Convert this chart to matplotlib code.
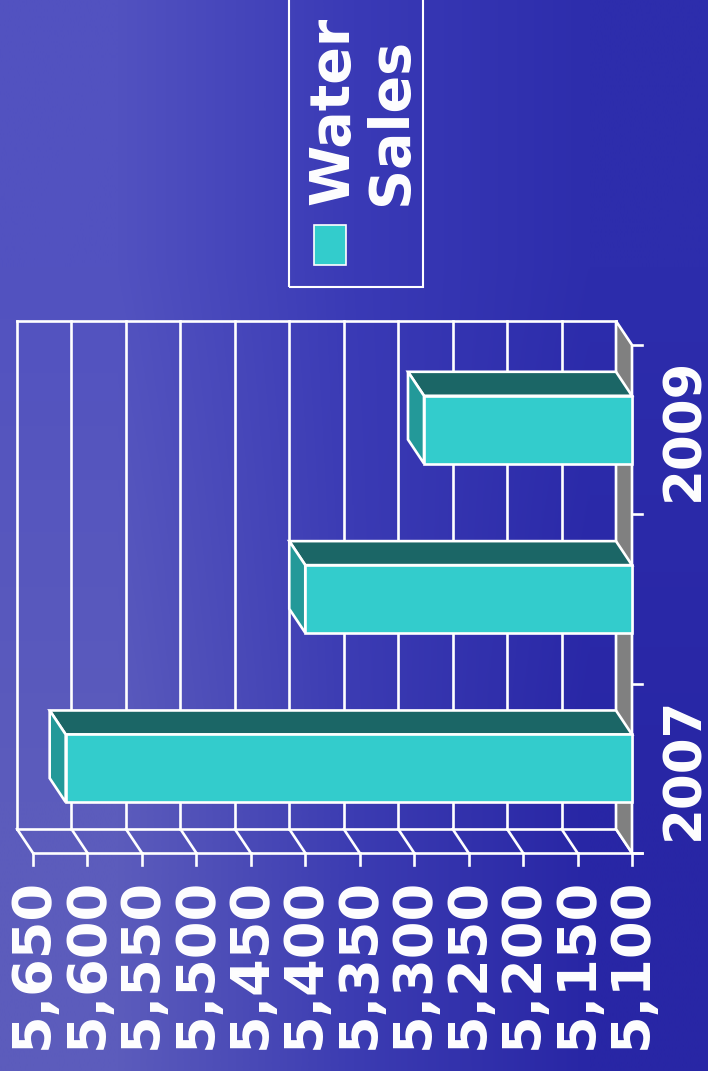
import numpy as np
import matplotlib
matplotlib.use('Agg')
import matplotlib.pyplot as plt
from matplotlib.patches import Polygon, Rectangle

# data
years = ['2007', '2008', '2009']
sales = [5620, 5400, 5291]
shown_years = [0, 2]          # 2008 label is skipped in the original
val_min, val_max, val_step = 5100, 5650, 50
legend_label = 'Water\nSales'

front_c = '#33CCCC'
top_c = '#1B6666'
side_c = '#239999'
wall_c = '#808080'
W = 'white'

W_PX, H_PX = 708, 1071
fig = plt.figure(figsize=(W_PX / 100, H_PX / 100), dpi=100)

# background gradient (lighter at the left)
grad = np.array([[[82, 82, 192], [58, 58, 182], [45, 45, 172]],
                 [[92, 92, 188], [60, 60, 178], [40, 38, 165]]]) / 255.
bg = fig.add_axes([0, 0, 1, 1])
bg.imshow(grad, aspect='auto', extent=[0, 1, 0, 1], interpolation='bilinear')
bg.axis('off')

# front plane of the (rotated) chart
L, R, T, B = 33, 632, 345, 853
ax = fig.add_axes([L / W_PX, 1 - B / H_PX, (R - L) / W_PX, (B - T) / H_PX])
ax.set_xlim(val_max, val_min)
ax.set_ylim(-0.5, len(years) - 0.5)
ax.axis('off')

px_val = (R - L) / (val_max - val_min)
px_cat = (B - T) / len(years)
dv = 16 / px_val      # depth, in value units (back plane is to the left)
dc = 24 / px_cat      # depth, in category units (back plane is higher)
lw = 1.9
c0, c1 = -0.5, len(years) - 0.5
ticks = np.arange(val_min, val_max + 1, val_step)

# back wall + gridlines
for v in ticks:
    ax.plot([v + dv, v + dv], [c0 + dc, c1 + dc], color=W, lw=lw, zorder=2, clip_on=False)
ax.plot([val_max + dv, val_min + dv], [c1 + dc, c1 + dc], color=W, lw=lw, zorder=2, clip_on=False)
ax.plot([val_max + dv, val_min + dv], [c0 + dc, c0 + dc], color=W, lw=lw, zorder=2, clip_on=False)

# floor diagonals, front baseline and ticks
tick_len = 12 / px_cat
for v in ticks:
    ax.plot([v + dv, v], [c0 + dc, c0], color=W, lw=lw, zorder=2, clip_on=False)
    ax.plot([v, v], [c0, c0 - tick_len], color=W, lw=lw, zorder=2, clip_on=False)
ax.plot([val_max, val_min - 10 / px_val], [c0, c0], color=W, lw=lw, zorder=2, clip_on=False)

# grey side wall
ax.add_patch(Polygon([(val_min, c0), (val_min, c1), (val_min + dv, c1 + dc), (val_min + dv, c0 + dc)],
                     closed=True, fc=wall_c, ec=W, lw=lw, zorder=3, clip_on=False))
for k in range(len(years) + 1):
    ax.plot([val_min, val_min - 10 / px_val], [c0 + k, c0 + k], color=W, lw=lw, zorder=3, clip_on=False)

# 3d bars
h = 0.4
for i, v in enumerate(sales):
    lo, hi = i - h / 2, i + h / 2
    ax.add_patch(Polygon([(val_min, hi), (v, hi), (v + dv, hi + dc), (val_min + dv, hi + dc)],
                         closed=True, fc=top_c, ec=W, lw=lw, zorder=4, clip_on=False))
    ax.add_patch(Polygon([(v, lo), (v, hi), (v + dv, hi + dc), (v + dv, lo + dc)],
                         closed=True, fc=side_c, ec=W, lw=lw, zorder=4, clip_on=False))
    ax.add_patch(Rectangle((val_min, lo), v - val_min, h, fc=front_c, ec=W, lw=lw,
                           zorder=5, clip_on=False))

# value labels
for v in ticks:
    ax.annotate(f'{v:,}', xy=(v, c0), xytext=(0, -18), textcoords='offset points',
                rotation=90, ha='center', va='top', color=W, fontsize=39,
                fontweight='bold', annotation_clip=False)

# category labels
for i in shown_years:
    ax.annotate(years[i], xy=(val_min, i), xytext=(38, 0), textcoords='offset points',
                rotation=90, ha='center', va='center', color=W, fontsize=37,
                fontweight='bold', annotation_clip=False)

# legend
fig.patches.append(Rectangle((289 / W_PX, 1 - 287 / H_PX), 134 / W_PX, 300 / H_PX,
                             transform=fig.transFigure, fill=False, ec=W, lw=1.5))
fig.patches.append(Rectangle((314 / W_PX, 1 - 265 / H_PX), 32 / W_PX, 40 / H_PX,
                             transform=fig.transFigure, fc=front_c, ec=W, lw=1.2))
fig.text(362 / W_PX, 1 - 205 / H_PX, legend_label, rotation=90, ha='center', va='bottom',
         multialignment='left', color=W, fontsize=40, fontweight='bold', linespacing=1.1)

fig.savefig('out.png', dpi=100)
